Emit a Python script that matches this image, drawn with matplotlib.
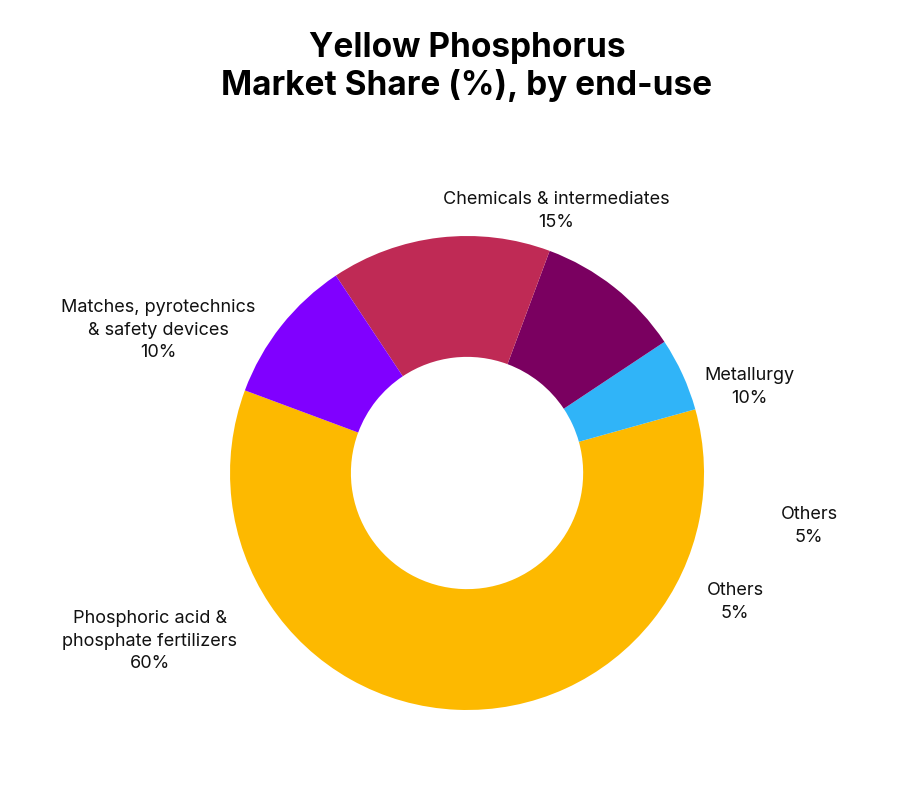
import matplotlib
matplotlib.use("Agg")
import matplotlib.pyplot as plt

categories = ["Phosphoric acid &\nphosphate fertilizers", "Others", "Metallurgy",
              "Chemicals & intermediates", "Matches, pyrotechnics\n& safety devices"]
values = [60, 5, 10, 15, 10]
colors = ["#FDB900", "#30B4F8", "#7A0060", "#BF2A55", "#8000FF"]
label_texts = ["Phosphoric acid &\nphosphate fertilizers\n60%", "Others\n5%", "Metallurgy\n10%",
               "Chemicals & intermediates\n15%", "Matches, pyrotechnics\n& safety devices\n10%",
               "Others\n5%"]
label_pos = [(-1.338, -0.709), (1.131, -0.544), (1.19, 0.363), (0.376, 1.105),
             (-1.304, 0.603), (1.443, -0.224)]

plt.rcParams['font.family'] = ['Inter', 'DejaVu Sans']
fig = plt.figure(figsize=(9.17, 7.88), dpi=100)
ax = fig.add_axes([0.2508, 0.099, 0.517, 0.6015])
ax.pie(values, colors=colors, startangle=159.6, counterclock=True,
       radius=1.0, wedgeprops=dict(width=0.51, edgecolor='none'))
ax.set_xlim(-1, 1); ax.set_ylim(-1, 1); ax.set_aspect('equal')
ax.axis('off')
for t, (x, y) in zip(label_texts, label_pos):
    ax.text(x, y, t, ha='center', va='center', fontsize=13, linespacing=1.45,
            color='#111111', clip_on=False)
fig.text(0.509, 0.915, "Yellow Phosphorus\nMarket Share (%), by end-use", ha='center',
         va='center', fontsize=24, fontweight='bold', linespacing=1.2)
fig.savefig("out.png", dpi=100, facecolor='white')
